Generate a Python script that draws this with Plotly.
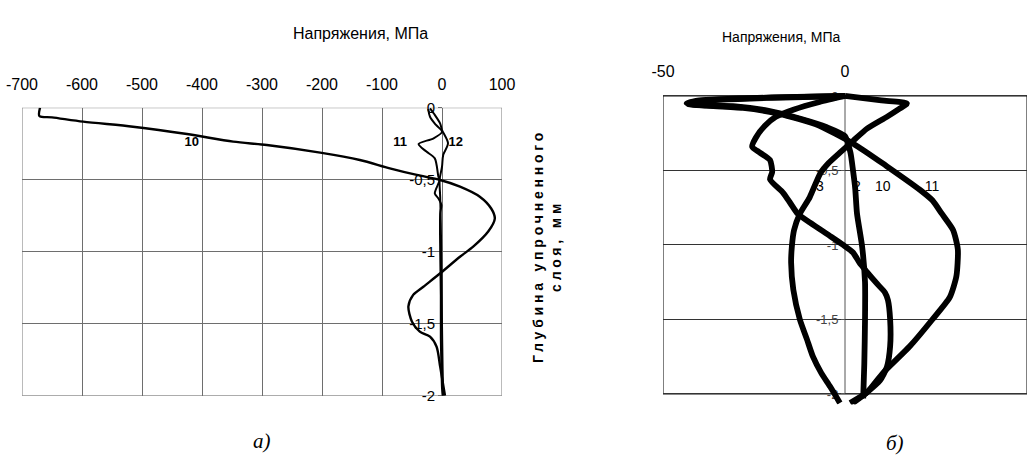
import plotly.graph_objects as go

# ---------------- data: chart (а) ----------------
left_stress_ticks = [-700, -600, -500, -400, -300, -200, -100, 0, 100]
left_stress_text = ["-700", "-600", "-500", "-400", "-300", "-200", "-100", "0", "100"]
depth_ticks = [0, -0.5, -1, -1.5, -2]
depth_tick_text = ["0", "-0,5", "-1", "-1,5", "-2"]

a10_stress = [-670, -671, -650, -598, -515, -425, -348, -292, -203, -137, -87, -42, -3, 30, 63,
              82, 88, 77, 52, 30, -3, -31, -48, -56, -50, -37, -20, -9, -3, 5]
a10_depth = [0, -0.058, -0.067, -0.097, -0.132, -0.183, -0.236, -0.259, -0.312, -0.363, -0.421,
             -0.467, -0.502, -0.548, -0.618, -0.70, -0.77, -0.86, -0.965, -1.035, -1.15, -1.243,
             -1.30, -1.38, -1.486, -1.555, -1.59, -1.66, -1.80, -2.0]

a11_stress = [-23, -20, -10, 0, -14, -39, -26, -12, -6, -4, -12, -6, -1, -3, -3, -2, -2, -1, 0, 1]
a11_depth = [-0.01, -0.063, -0.12, -0.167, -0.213, -0.252, -0.305, -0.352, -0.479, -0.502,
             -0.595, -0.63, -0.676, -0.733, -1.0, -1.3, -1.6, -1.8, -1.95, -2.0]

a12_stress = [-20, -12, -3, 0, 10, 2, 0, -4, -3, -2, -1, 0, 1, 2]
a12_depth = [-0.005, -0.05, -0.11, -0.155, -0.247, -0.328, -0.41, -0.5, -0.62, -0.8, -1.1,
             -1.5, -1.8, -2.0]

a_label_text = ["10", "11", "12"]
a_label_stress = [-417, -70, 23]
a_label_depth = [-0.245, -0.245, -0.245]

# ---------------- data: chart (б) ----------------
right_stress_ticks = [-50, 0, 50]
right_stress_text = ["-50", "0", "50"]

b2_stress = [0, -20, -40, -43.5, -40, -30, -21, -12, -5, 0, 1.5, 2.2, 2.8, 3.3, 4.7, 5.5, 5.5,
             5.3, 5]
b2_depth = [0, -0.01, -0.03, -0.05, -0.062, -0.07, -0.10, -0.155, -0.21, -0.27, -0.38, -0.5,
            -0.62, -0.79, -1.01, -1.25, -1.5, -1.8, -2.03]

b3_stress = [0, 10, 17, 15, 11.5, 6, 2.3, -1.4, -4.5, -6.8, -9.7, -12.4, -14, -14.6, -14.8,
             -14.2, -12.4, -10.5, -8.8, -6.5, -4.1, -1.4]
b3_depth = [0, -0.03, -0.05, -0.085, -0.14, -0.22, -0.30, -0.38, -0.45, -0.52, -0.68, -0.79,
            -0.9, -1.01, -1.12, -1.30, -1.50, -1.63, -1.75, -1.86, -1.95, -2.06]

b10_stress = [0, -7, -14, -19, -22, -24.5, -25.5, -23.4, -20.6, -20, -20.6, -17, -15, -13, -9.6,
              -4.1, -0.5, 2.2, 4, 6, 8.8, 11, 11.8, 12.4, 12.4, 11.5, 9.6, 6, 2.2]
b10_depth = [0, -0.04, -0.09, -0.14, -0.2, -0.28, -0.34, -0.38, -0.43, -0.51, -0.56, -0.65,
             -0.72, -0.79, -0.85, -0.94, -1.0, -1.05, -1.12, -1.18, -1.26, -1.32, -1.37, -1.5,
             -1.68, -1.82, -1.91, -1.99, -2.06]

b11_stress = [0, -20, -40, -43, -38, -28, -18, -8, 2.3, 11.4, 20.6, 24, 26.6, 29.7, 31, 30.6,
              28.8, 24, 17.8, 10.4, 6, 1.4]
b11_depth = [0, -0.012, -0.035, -0.055, -0.065, -0.08, -0.12, -0.19, -0.32, -0.47, -0.63, -0.70,
             -0.79, -0.90, -1.03, -1.21, -1.35, -1.5, -1.68, -1.86, -1.99, -2.06]

b_label_text = ["3", "2", "10", "11"]
b_label_stress = [-6.9, 3.3, 10.4, 23.9]
b_label_depth = [-0.617, -0.617, -0.617, -0.617]

# ---------------- figure ----------------
W, H = 1035, 467


def px_x(p):
    return p / W


def px_y(p):
    return 1 - p / H


fig = go.Figure()

# labels first so curves are drawn over them
fig.add_trace(go.Scatter(x=a_label_stress, y=a_label_depth, mode="text", text=a_label_text,
                         textfont=dict(size=13, color="black", weight="bold"),
                         xaxis="x", yaxis="y", hoverinfo="skip"))
fig.add_trace(go.Scatter(x=b_label_stress, y=b_label_depth, mode="text", text=b_label_text,
                         textfont=dict(size=14, color="black"),
                         xaxis="x2", yaxis="y2", hoverinfo="skip"))

for xs, ys, w in [(a10_stress, a10_depth, 2.4), (a11_stress, a11_depth, 2),
                  (a12_stress, a12_depth, 2)]:
    fig.add_trace(go.Scatter(x=xs, y=ys, mode="lines", xaxis="x", yaxis="y",
                             line=dict(color="black", width=w, shape="spline", smoothing=0.8)))

for xs, ys in [(b2_stress, b2_depth), (b3_stress, b3_depth), (b10_stress, b10_depth),
               (b11_stress, b11_depth)]:
    fig.add_trace(go.Scatter(x=xs, y=ys, mode="lines", xaxis="x2", yaxis="y2",
                             line=dict(color="black", width=5.8, shape="spline", smoothing=0.6)))

grid_a = "#6e6e6e"
grid_b = "#333333"

fig.update_layout(
    width=W, height=H,
    margin=dict(l=0, r=0, t=0, b=0),
    paper_bgcolor="white", plot_bgcolor="white",
    showlegend=False,
    font=dict(family="Liberation Sans, Arial, sans-serif", color="black"),
    xaxis=dict(domain=[px_x(22), px_x(502)], range=[-700, 100], side="top", anchor="y",
               tickvals=left_stress_ticks, ticktext=left_stress_text, ticks="",
               showgrid=True, gridcolor=grid_a,
               gridwidth=1, zeroline=False, showline=False, tickfont=dict(size=16),
               ticklabelstandoff=14, fixedrange=True, automargin=False),
    yaxis=dict(domain=[px_y(395.7), px_y(107.7)], range=[-2, 0], anchor="free",
               position=px_x(442), tickvals=depth_ticks, ticktext=depth_tick_text,
               showgrid=True, gridcolor=grid_a, zeroline=False, showline=False,
               ticks="outside", ticklen=4, tickcolor=grid_a, tickfont=dict(size=15),
               layer="below traces", fixedrange=True, automargin=False),
    xaxis2=dict(domain=[px_x(663), px_x(1027)], range=[-50, 50], side="top", anchor="y2",
                tickvals=right_stress_ticks, ticktext=right_stress_text, ticks="",
                showgrid=False, zeroline=False,
                showline=False, tickfont=dict(size=16), ticklabelstandoff=12,
                fixedrange=True, automargin=False),
    yaxis2=dict(domain=[px_y(404.4), px_y(93.0)], range=[-2.07, 0.02], anchor="free",
                position=px_x(845), tickvals=depth_ticks, ticktext=depth_tick_text,
                showgrid=True, gridcolor=grid_b, zeroline=False, showline=False,
                ticks="outside", ticklen=4, tickcolor="#555", tickfont=dict(size=13, color="#444"),
                layer="below traces", fixedrange=True, automargin=False),
    shapes=[
        dict(type="rect", xref="x", yref="y", x0=-700, x1=100, y0=-2, y1=0,
             line=dict(color="#777777", width=1), layer="below"),
        dict(type="rect", xref="x2", yref="y2", x0=-50, x1=50, y0=-2, y1=0,
             line=dict(color="black", width=1), layer="below"),
        dict(type="line", xref="x2", yref="y2", x0=0, x1=0, y0=-2, y1=0,
             line=dict(color="#555555", width=1), layer="below"),
    ],
    annotations=[
        dict(text="Напряжения, МПа", xref="paper", yref="paper", x=px_x(291), y=px_y(23),
             showarrow=False, font=dict(size=16)),
        dict(text="Напряжения, МПа", xref="paper", yref="paper", x=px_x(842), y=px_y(27),
             showarrow=False, font=dict(size=14)),
        dict(text="Глубина упрочненного<br>слоя, мм", xref="paper", yref="paper",
             x=px_x(547), y=px_y(246), textangle=-90, showarrow=False,
             font=dict(size=14, weight="bold")),
        dict(text="а)", xref="paper", yref="paper", x=px_x(251), y=px_y(455),
             showarrow=False,
             font=dict(size=21, family="Liberation Serif, Times New Roman, serif", style="italic")),
        dict(text="б)", xref="paper", yref="paper", x=px_x(906), y=px_y(457),
             showarrow=False,
             font=dict(size=21, family="Liberation Serif, Times New Roman, serif", style="italic")),
    ],
)

post = """
document.body.style.margin = '0';
document.body.style.padding = '0';
document.body.style.overflow = 'hidden';
var gd = document.getElementById('{plot_id}');
gd.querySelectorAll('text.annotation-text').forEach(function(t){
  if (t.textContent.indexOf('Глубина') >= 0) { t.style.letterSpacing = '3.8px'; }
});
"""

fig.write_html("out.html", config={"displayModeBar": False}, post_script=post)
